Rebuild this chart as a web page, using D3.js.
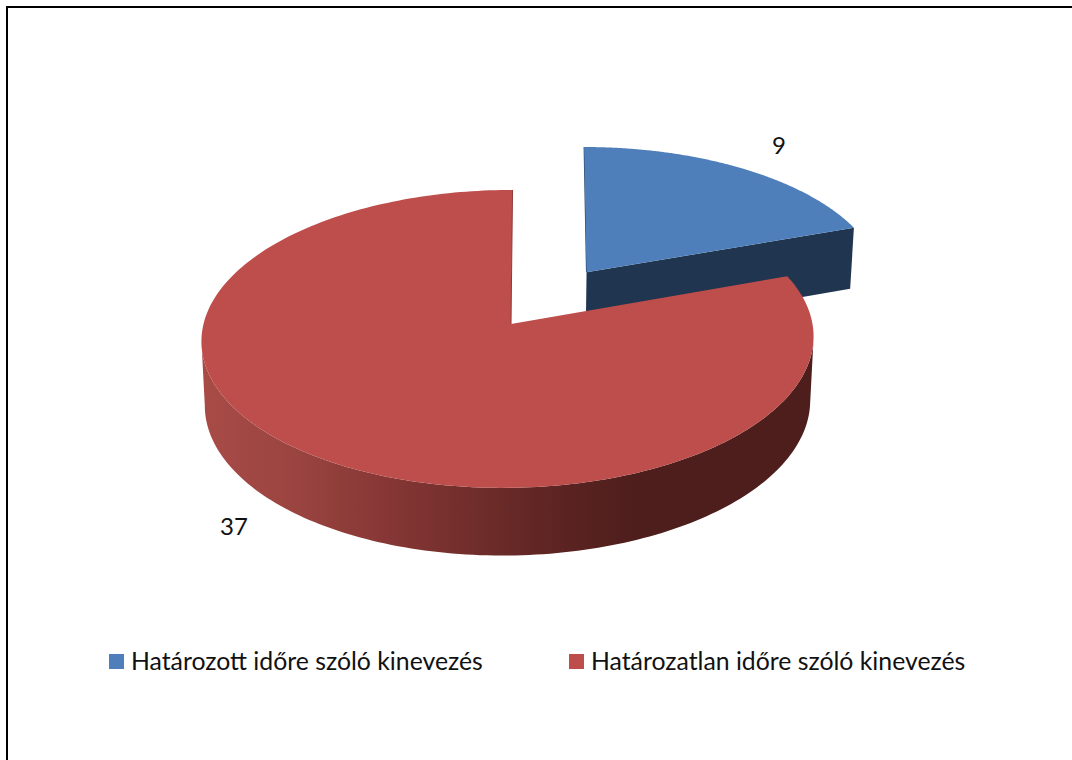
<!DOCTYPE html>
<html>
<head>
<meta charset="utf-8">
<script src="https://cdn.jsdelivr.net/npm/d3@7"></script>
<style>
  html, body { margin: 0; padding: 0; background: #fff; }
  svg { display: block; }
  text { font-family: Lato, "Open Sans", sans-serif; fill: #111; }
</style>
</head>
<body>
<svg id="chart"></svg>
<script>
const categories = ['Határozott időre szóló kinevezés', 'Határozatlan időre szóló kinevezés'];
const values = [9, 37];
const topColors = ['#4e7fba', '#bd4e4b'];

const width = 1072;
const height = 760;

// perspective of the pie disc, unit circle -> screen
const cx = 508;
const cy = 324;
const rx = 304.5;
const ry = 147.5;
const persp = 0.1;
const skew = 0.034;
const explode = 0.445; // only first slice is pulled out

const svg = d3.select('#chart').attr('width', width).attr('height', height);

// frame only on top and left
svg.append('path')
  .attr('d', d3.line()([[width, 7], [7, 7], [7, height]]))
  .attr('fill', 'none')
  .attr('stroke', '#000')
  .attr('stroke-width', 2);

function project(X, Y, z) {
  const den = 1 + persp * Y;
  const sx = (rx * X / den) * (1 - 0.011 * z);
  const sy = -ry * Y / den;
  return [cx + sx - sy * skew, cy + sy + z * 63.6 / (1 + 0.06 * Y)];
}

const pie = d3.pie().value((d) => d).sort(null);
const slices = pie(values).map((d, i) => {
  const mid = (d.startAngle + d.endAngle) / 2;
  return {
    ...d,
    ox: i === 0 ? explode * Math.sin(mid) : 0,
    oy: i === 0 ? explode * Math.cos(mid) : 0,
    nudge: i === 0 ? 1.4 : 0,
    apexNudge: i === 0 ? 1.4 : 3, // tip of the disc sits a bit right in the original
  };
});

function rim(s, z) {
  return d3.range(0, 241).map((k) => {
    const t = s.startAngle + (s.endAngle - s.startAngle) * k / 240;
    const p = project(s.ox + Math.sin(t), s.oy + Math.cos(t), z);
    return { t, pt: [p[0] + s.nudge, p[1]] };
  });
}
const apex = (s, z) => {
  const p = project(s.ox, s.oy, z);
  return [p[0] + s.apexNudge, p[1]];
};
const line = d3.line();
const pts = (r) => r.map((d) => d.pt);

const blue = slices[0];
const red = slices[1];

// only the near half of the wall shows, cut where the disc is widest
const nearSide = (d) => Math.cos(d.t) < -persp;
const redWallTop = pts(rim(red, 0).filter(nearSide));
const redWallBottom = pts(rim(red, 1).filter(nearSide));

// side shading of the big slice runs left to right
const xExtent = d3.extent(redWallBottom, (p) => p[0]);
const grad = svg.append('defs').append('linearGradient')
  .attr('id', 'redSide')
  .attr('gradientUnits', 'userSpaceOnUse')
  .attr('x1', xExtent[0]).attr('x2', xExtent[1])
  .attr('y1', 0).attr('y2', 0);
[[0, '#a84b47'], [0.15, '#9a4440'], [0.3, '#863735'], [0.45, '#6f2d2b'], [0.6, '#5a2321'], [0.72, '#4d1e1c'], [1, '#4d1e1c']]
  .forEach(([o, c]) => grad.append('stop').attr('offset', o).attr('stop-color', c));

// blue slice: cut face first, then the top
const blueRim = pts(rim(blue, 0));
const blueEndTop = blueRim[blueRim.length - 1];
const blueEndBot = pts(rim(blue, 1))[240];
svg.append('path')
  .attr('d', line([apex(blue, 0), blueEndTop, blueEndBot, apex(blue, 1)]) + 'Z')
  .attr('fill', '#1f3550');
svg.append('path')
  .attr('d', line([apex(blue, 0), blueRim[0]]))
  .attr('stroke', '#2a4669').attr('stroke-width', 1.2).attr('fill', 'none');
svg.append('path')
  .attr('d', line([apex(blue, 0), ...blueRim]) + 'Z')
  .attr('fill', topColors[0]);

// red slice: wall then top
const redRim = pts(rim(red, 0));
svg.append('path')
  .attr('d', line([...redWallTop, ...redWallBottom.slice().reverse()]) + 'Z')
  .attr('fill', 'url(#redSide)');
svg.append('path')
  .attr('d', line([apex(red, 0), ...redRim]) + 'Z')
  .attr('fill', topColors[1]);
svg.append('path')
  .attr('d', line([apex(red, 0), redRim[redRim.length - 1]]))
  .attr('stroke', '#8f3b39').attr('stroke-width', 1).attr('fill', 'none');

// value labels
const labelPos = [[779, 154], [234, 535]];
svg.selectAll('text.val')
  .data(values)
  .join('text')
  .attr('class', 'val')
  .attr('x', (d, i) => labelPos[i][0])
  .attr('y', (d, i) => labelPos[i][1])
  .attr('text-anchor', 'middle')
  .attr('font-size', 24)
  .text((d) => d);

// legend
const legendX = [109, 569];
const legend = svg.selectAll('g.legend')
  .data(categories)
  .join('g')
  .attr('class', 'legend')
  .attr('transform', (d, i) => `translate(${legendX[i]},654)`);
legend.append('rect')
  .attr('width', 15).attr('height', 15)
  .attr('fill', (d, i) => topColors[i]);
legend.append('text')
  .attr('x', 22)
  .attr('y', 15.5)
  .attr('font-size', 24.8)
  .text((d) => d);
</script>
</body>
</html>
